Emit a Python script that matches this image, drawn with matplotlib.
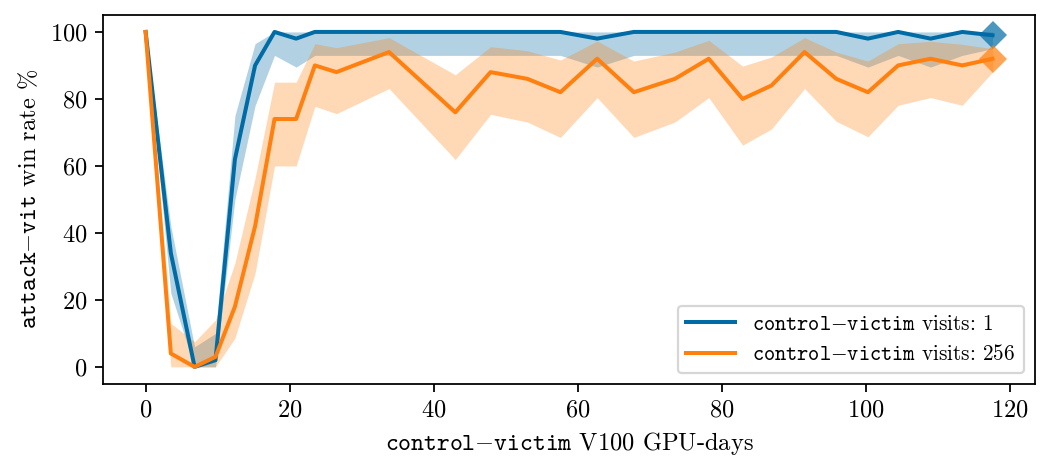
import matplotlib
matplotlib.use("Agg")
import matplotlib.pyplot as plt

plt.rcParams["font.family"] = "serif"
plt.rcParams["font.serif"] = ["cmr10"]
plt.rcParams["mathtext.fontset"] = "cm"
plt.rcParams["axes.formatter.use_mathtext"] = True
plt.rcParams["font.size"] = 11

# GPU-days of the control-victim checkpoints
gpu_days = [0, 3.5, 6.8, 9.7, 12.4, 15.2, 17.9, 20.9, 23.5, 26.5, 33.8, 43.0,
            47.9, 53.0, 57.6, 62.7, 67.8, 73.5, 78.2, 82.9, 86.9, 91.5, 95.9,
            100.3, 104.5, 109.0, 113.4, 117.6]

# visits: 1
win_v1 = [100, 34, 0, 2, 62, 90, 100, 98, 100, 100, 100, 100, 100, 100, 100,
          98, 100, 100, 100, 100, 100, 100, 100, 98, 100, 98, 100, 99]
lo_v1 = [100, 22, 0, 0, 50, 78, 93, 89.5, 93, 93, 93, 93, 93, 93, 93, 89.5,
         93, 93, 93, 93, 93, 93, 93, 89.5, 93, 89.5, 93, 95]
hi_v1 = [100, 42, 6, 10, 75, 96.5, 100, 100, 100, 100, 100, 100, 100, 100,
         100, 100, 100, 100, 100, 100, 100, 100, 100, 100, 100, 100, 100, 100]

# visits: 256
win_v256 = [100, 4, 0, 3, 18, 42, 74, 74, 90, 88, 94, 76, 88, 86, 82, 92, 82,
            86, 92, 80, 84, 94, 86, 82, 90, 92, 90, 92]
lo_v256 = [100, 0, 0, 0, 8.6, 28, 60, 60, 77.8, 75.6, 83.1, 61.9, 75.4, 73.1,
           68.5, 80.4, 68.5, 73.1, 80.4, 66.2, 71, 83.1, 73.3, 68.7, 78.1,
           80.4, 78.1, 88]
hi_v256 = [100, 13, 7.5, 14, 31, 56.4, 85, 85, 96.5, 95.3, 98.3, 87.2, 95.6,
           94.4, 91.6, 97.3, 91.3, 94, 97.5, 89.8, 92.5, 98.3, 94, 91.3, 96.5,
           97.2, 96.3, 95]

series = [
    (win_v1, lo_v1, hi_v1, "#006BA4", r"$\mathtt{control{-}victim}$ visits: 1"),
    (win_v256, lo_v256, hi_v256, "#FF800E", r"$\mathtt{control{-}victim}$ visits: 256"),
]

fig, ax = plt.subplots(figsize=(6.52, 2.875), dpi=160)
fig.subplots_adjust(left=0.099, right=0.992, bottom=0.166, top=0.967)

for win, lo, hi, color, label in series:
    ax.fill_between(gpu_days, lo, hi, color=color, alpha=0.3, linewidth=0)
    ax.plot(gpu_days, win, color=color, lw=1.8, label=label)
    ax.plot(gpu_days[-1:], win[-1:], marker="D", ms=9, color=color,
            alpha=0.7, mew=0, linestyle="none")

ax.set_xlabel(r"$\mathtt{control{-}victim}$ V100 GPU-days")
ax.set_ylabel(r"$\mathtt{attack{-}vit}$ win rate %")
ax.legend(loc="lower right", fontsize=9.6, handlelength=2.3)

plt.savefig("out.png", dpi=160)
